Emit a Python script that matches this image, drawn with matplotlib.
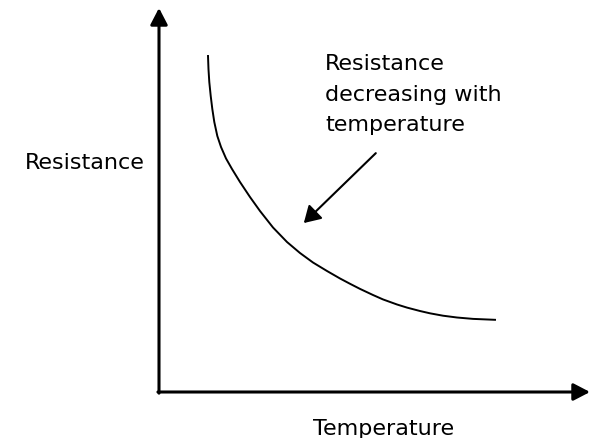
import matplotlib.pyplot as plt

# curve (arbitrary units, 0-100 on both axes)
temperature = [11.37, 11.48, 11.67, 12.00, 12.37, 12.83, 13.53, 14.39,
               15.55, 16.94, 18.79, 21.11, 23.43, 26.45, 29.70, 32.71,
               35.73, 38.98, 42.00, 44.32, 46.64, 49.65, 51.97, 55.22,
               57.54, 60.56, 62.88, 65.89, 69.14, 72.85, 77.96]
resistance = [87.50, 84.11, 80.73, 77.08, 73.70, 70.31, 66.67, 63.80,
              60.81, 58.07, 54.69, 50.78, 47.14, 42.84, 39.06, 36.20,
              33.72, 31.51, 29.56, 28.18, 26.85, 25.26, 24.11, 22.79,
              21.98, 21.09, 20.49, 19.87, 19.40, 19.04, 18.80]

x_label = "Temperature"
y_label = "Resistance"
note_lines = ["Resistance", "decreasing with", "temperature"]

plt.rcParams['font.family'] = ['DejaVu Sans']

fig = plt.figure(figsize=(5.91, 4.39), dpi=100)
W, H = 591.0, 439.0
ax = fig.add_axes([159 / W, (H - 393) / H, (590 - 159) / W, (393 - 9) / H])
ax.set_xlim(0, 100)
ax.set_ylim(0, 100)
ax.axis('off')

# axes with arrow heads
axis_arrow = dict(arrowstyle='-|>,head_length=0.5,head_width=0.26',
                  lw=2.2, color='black', shrinkA=0, shrinkB=0,
                  mutation_scale=20)
ax.annotate('', xy=(0, 100), xytext=(0, -0.3), arrowprops=axis_arrow,
            annotation_clip=False)
ax.annotate('', xy=(100, 0), xytext=(-0.25, 0), arrowprops=axis_arrow,
            annotation_clip=False)

ax.plot(temperature, resistance, color='black', lw=1.4,
        solid_joinstyle='round')

# pointer to the curve
ax.annotate('', xy=(33.6, 44.0), xytext=(50.3, 62.2),
            arrowprops=dict(arrowstyle='-|>,head_length=0.5,head_width=0.3',
                            lw=1.5, color='black', shrinkA=0, shrinkB=0,
                            mutation_scale=20))

fs = 16
for i, line in enumerate(note_lines):
    ax.text(38.5, 84.1 - i * 8.0, line, fontsize=fs, ha='left',
            va='baseline', clip_on=False)

ax.text(-3.25, 59.9, y_label, fontsize=fs, ha='right', va='center',
        clip_on=False)
ax.text(52.0, -10.9, x_label, fontsize=fs, ha='center', va='baseline',
        clip_on=False)

fig.savefig('out.png', dpi=100)
